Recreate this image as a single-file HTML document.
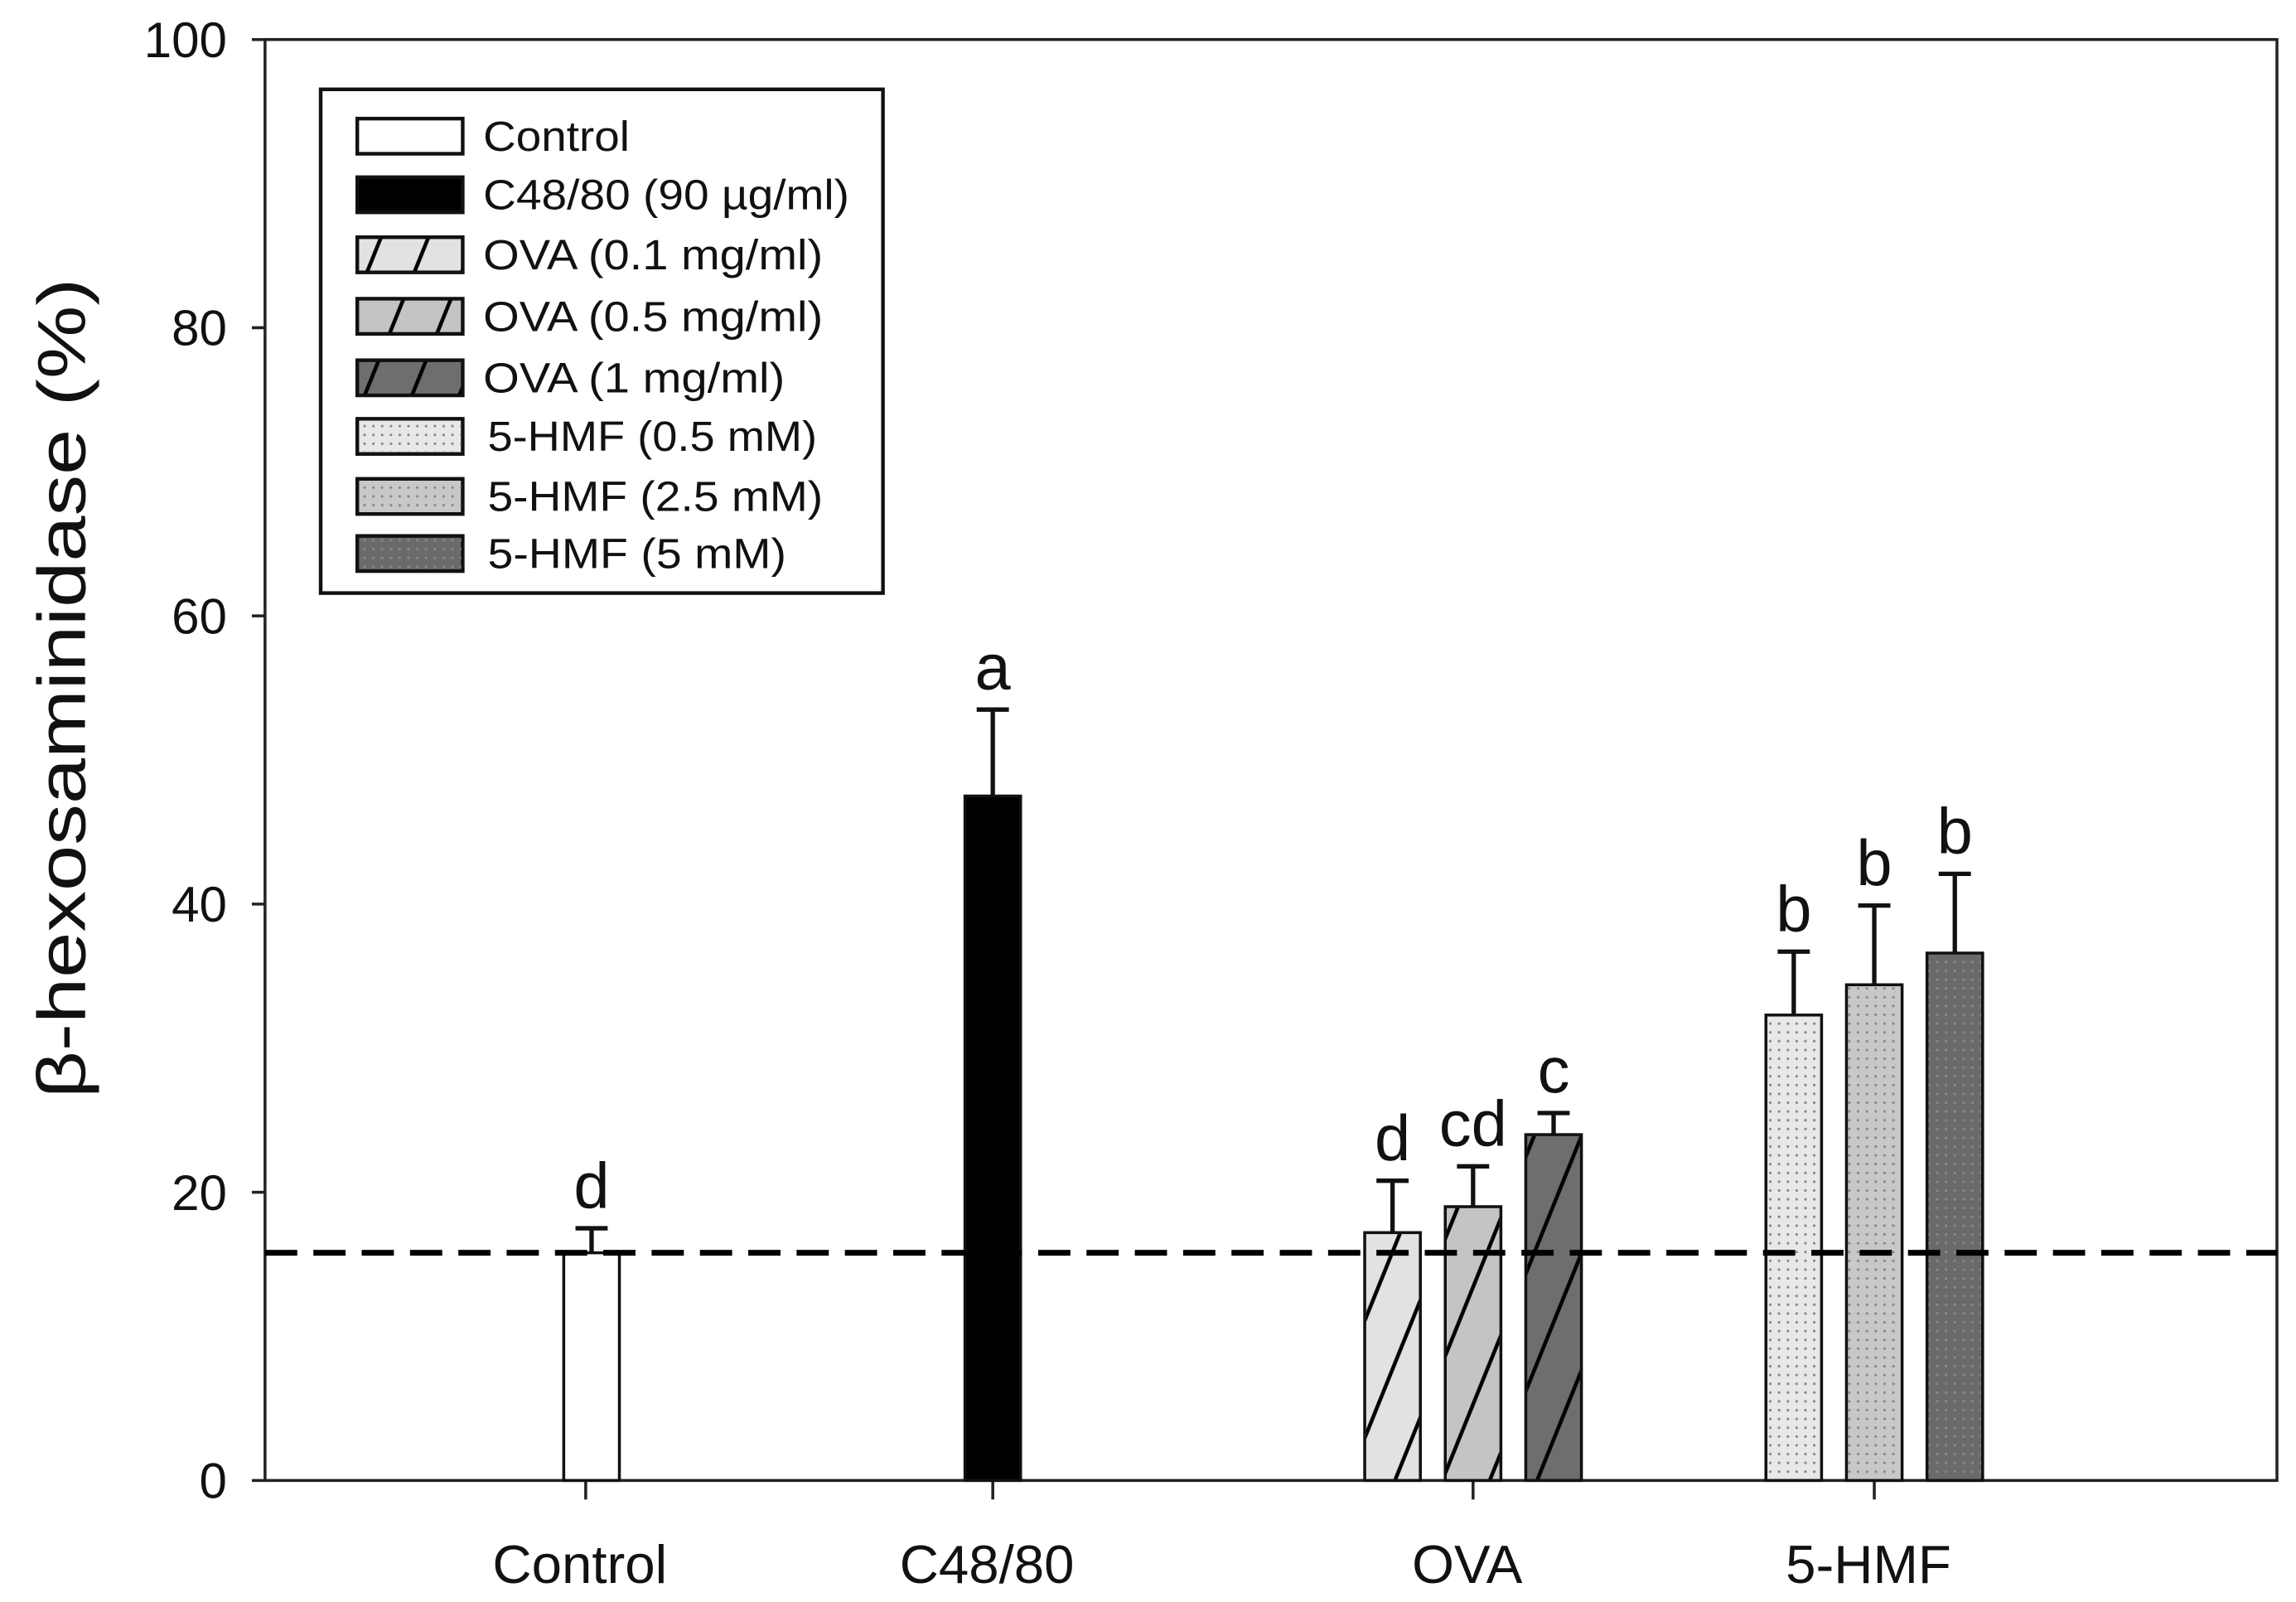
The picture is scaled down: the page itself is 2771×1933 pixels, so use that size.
<!DOCTYPE html>
<html><head><meta charset="utf-8"><style>html,body{margin:0;padding:0;background:#fff}svg{display:block}</style></head>
<body>
<svg id="chart" width="2771" height="1933" viewBox="0 0 1568 1094" preserveAspectRatio="none" xmlns="http://www.w3.org/2000/svg" font-family="Liberation Sans, Arial, sans-serif">
<defs>
<pattern id="hatch" patternUnits="userSpaceOnUse" width="30" height="60" patternTransform="rotate(22)"><line x1="2" y1="0" x2="2" y2="60" stroke="#000" stroke-width="2.6"/></pattern>
<pattern id="dots" patternUnits="userSpaceOnUse" width="6" height="6"><circle cx="3" cy="3" r="0.9" fill="#888"/></pattern>
</defs>
<g id="axes"></g>
<g id="bars"></g>
<g id="legend"></g>
</svg>
<script>
const categories = ["Control","C48/80","OVA","5-HMF"];
const seriesNames = ["Control","C48/80 (90 µg/ml)","OVA (0.1 mg/ml)","OVA (0.5 mg/ml)","OVA (1 mg/ml)","5-HMF (0.5 mM)","5-HMF (2.5 mM)","5-HMF (5 mM)"];
const barValues = [15.8, 47.5, 17.2, 19.0, 24.0, 32.3, 34.4, 36.6];
const barErrors = [1.7, 6.0, 3.6, 2.8, 1.5, 4.4, 5.5, 5.5];
const barLetters = ["d","a","d","cd","c","b","b","b"];
const barCategory = [0,1,2,2,2,3,3,3];
const yTicks = [0,20,40,60,80,100];
const baselineValue = 15.8;

const NS="http://www.w3.org/2000/svg";
const X0=181,X1=1555,Y0=1011,Y1=27;
const y=v=>Y0-(v/100)*(Y0-Y1);
const catX=[400,678,1006,1280];
const barShift=[4,0,0,0];
const barW=38, slot=55;
const fills=["#fff","#000","#e2e2e2","#c4c4c4","#6e6e6e","#e8e8e8","#c8c8c8","#6a6a6a"];
const pat=[null,null,"hatch","hatch","hatch","dots","dots","dots"];
function el(t,a,p){const e=document.createElementNS(NS,t);for(const k in a)e.setAttribute(k,a[k]);p.appendChild(e);return e;}
const axes=document.getElementById('axes'),bars=document.getElementById('bars'),leg=document.getElementById('legend');
let f=el('rect',{x:X0,y:Y1,width:X1-X0,height:Y0-Y1,fill:'none',stroke:'#222','stroke-width':2},axes);

yTicks.forEach(t=>{
  let l=el('line',{x1:X0-9,x2:X0,y1:y(t),y2:y(t),stroke:'#222','stroke-width':2},axes);
  
  let tx=el('text',{x:155,y:y(t)+12,'text-anchor':'end','font-size':34,fill:'#111'},axes);tx.textContent=t;
  
});
let yt=el('text',{x:0,y:0,'font-size':46,'text-anchor':'middle',textLength:560,lengthAdjust:'spacingAndGlyphs',transform:'translate(58,470) rotate(-90)',fill:'#111'},axes);
yt.textContent='β-hexosaminidase (%)';

categories.forEach((c,i)=>{
  let l=el('line',{x1:catX[i],x2:catX[i],y1:Y0,y2:Y0+13,stroke:'#222','stroke-width':2},axes);
  
  let tx=el('text',{x:catX[i]-4,y:1081,'text-anchor':'middle','font-size':37,fill:'#111'},axes);tx.textContent=c;
  
});
barValues.forEach((v,i)=>{
  const c=barCategory[i];
  const members=barCategory.map((b,j)=>b===c?j:-1).filter(j=>j>=0);
  const k=members.indexOf(i), n=members.length;
  const cx=catX[c]+barShift[c]+(k-(n-1)/2)*slot;
  const xl=cx-barW/2, yt2=y(v);
  let r=el('rect',{x:xl,y:yt2,width:barW,height:Y0-yt2,fill:fills[i],stroke:'#111','stroke-width':2},bars);
  
  
  if(pat[i]){let p=el('rect',{x:xl+1,y:yt2+1,width:barW-2,height:Y0-yt2-2,fill:'url(#'+pat[i]+')'},bars);
    }
  const ye=y(v+barErrors[i]);
  let e=el('path',{d:`M${cx} ${yt2}V${ye}M${cx-11} ${ye}H${cx+11}`,stroke:'#111','stroke-width':3,fill:'none'},bars);
  
  let lt=el('text',{x:cx,y:ye-14,'text-anchor':'middle','font-size':44,fill:'#111'},bars);lt.textContent=barLetters[i];
  
});
let dl=el('line',{x1:X0,x2:X1,y1:y(baselineValue),y2:y(baselineValue),stroke:'#000','stroke-width':4,'stroke-dasharray':'22 11'},bars);

let lb=el('rect',{x:219,y:61,width:384,height:344,fill:'#fff',stroke:'#111','stroke-width':2.5},leg);

const rowY=[93,133,174,216,258,298,339,378];
const rowW=[100,250,232,232,206,225,229,204];
seriesNames.forEach((s,i)=>{
  let r=el('rect',{x:244,y:rowY[i]-12,width:72,height:24,fill:fills[i],stroke:'#111','stroke-width':2.5},leg);
  
  if(pat[i]){let p=el('rect',{x:245,y:rowY[i]-11,width:70,height:22,fill:'url(#'+pat[i]+')'},leg);
    }
  let t=el('text',{x:i>=5?333:330,y:rowY[i]+10,'font-size':29,textLength:rowW[i],lengthAdjust:'spacingAndGlyphs',fill:'#111'},leg);t.textContent=s;
  
});
</script>
</body></html>
